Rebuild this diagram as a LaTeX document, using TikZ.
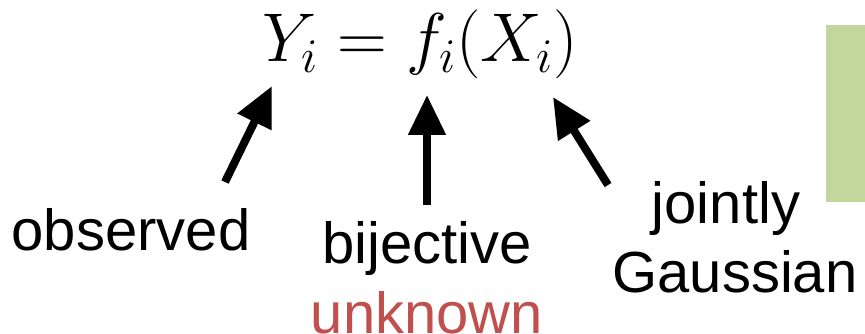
\RequirePackage{fix-cm}
\documentclass[tikz,border=0pt]{standalone}
\usepackage[no-math]{fontspec}
\setmainfont{Liberation Sans}
\usetikzlibrary{arrows.meta}
\definecolor{boxgreen}{HTML}{C3D69B}
\definecolor{labred}{HTML}{C0504D}
\tikzset{
  lab/.style={inner sep=0pt, anchor=base, font=\fontsize{58}{64}\selectfont},
  fatarrow/.style={line width=8pt, -{Triangle[length=40pt,width=36pt]}},
}
\begin{document}
\begin{tikzpicture}[x=1pt,y=-1pt]
\useasboundingbox (0,0) rectangle (865,334);
\fill[boxgreen] (826,25) rectangle (866,202);
\node[inner sep=0pt, anchor=base] (eq) at (420,62) {\fontsize{69}{80}\selectfont $Y_i = f_i(X_i)$};
\node[lab] (obs) at (131,250) {observed};
\node[lab] (bij) at (427,263) {bijective};
\node[lab, text=labred] (unk) at (427,333) {unknown};
\node[lab] (joi) at (726,223) {jointly};
\node[lab] (gau) at (735,292) {Gaussian};
\coordinate (t1) at (225,182);
\coordinate (h1) at (272,86);
\coordinate (t2) at (427,205);
\coordinate (h2) at (427,95);
\coordinate (t3) at (608,185);
\coordinate (h3) at (553,97);
\draw[fatarrow] (t1) -- (h1);
\draw[fatarrow] (t2) -- (h2);
\draw[fatarrow] (t3) -- (h3);
\end{tikzpicture}
\end{document}
